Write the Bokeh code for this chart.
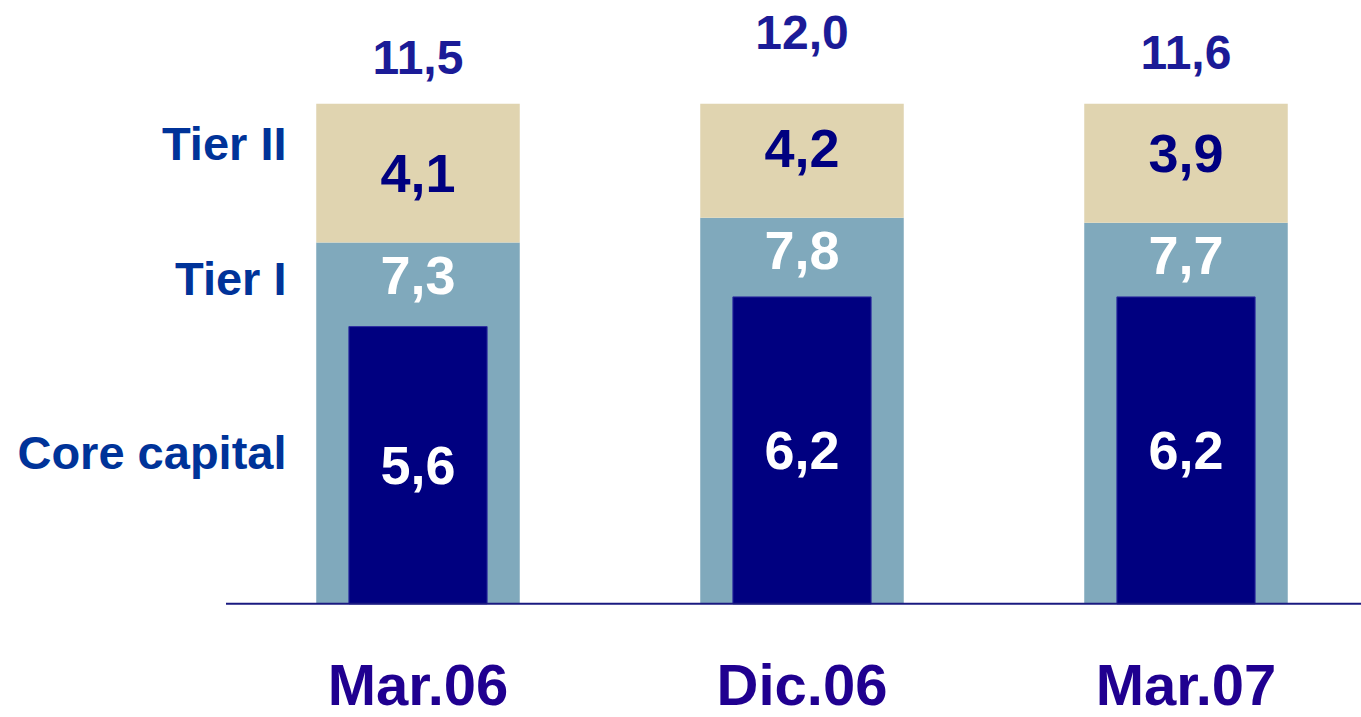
from bokeh.plotting import figure
from bokeh.models import ColumnDataSource, Range1d
from bokeh.core.properties import value
from bokeh.embed import file_html
from bokeh.resources import INLINE

# ---- data ----
categories = ["Mar.06", "Dic.06", "Mar.07"]
core_capital = [5.6, 6.2, 6.2]
tier1 = [7.3, 7.8, 7.7]
tier2 = [4.1, 4.2, 3.9]
total = [11.5, 12.0, 11.6]
series_names = ["Tier II", "Tier I", "Core capital"]

# ---- layout constants ----
W, H = 1361, 717
PX_PER_X = 384.0      # pixels between category centres
X0_PX = 417.5         # pixel of first category centre
PX_PER_Y = 49.5       # pixels per unit
BASE_PX = 603.3       # pixel row of the zero line (from top)
TIER2_CAP = 10.1      # beige bars are drawn truncated at this height
FONT = value("Liberation Sans")


def py(px_from_top):
    return (BASE_PX - px_from_top) / PX_PER_Y


def px_x(px):
    return (px - X0_PX) / PX_PER_X


def fmt(v):
    return f"{v:.1f}".replace(".", ",")


x = list(range(len(categories)))
src = ColumnDataSource(dict(
    x=x,
    cat=categories,
    core=core_capital,
    core_mid=[c / 2 for c in core_capital],
    t1=tier1,
    t2top=[min(t, TIER2_CAP) for t in total],
    total=total,
    lab_core=[fmt(v) for v in core_capital],
    lab_t1=[fmt(v) for v in tier1],
    lab_t2=[fmt(v) for v in tier2],
    lab_total=[fmt(v) for v in total],
    cat_y=[py(716)] * len(categories),
))

p = figure(width=W, height=H,
           x_range=Range1d(-X0_PX / PX_PER_X, (W - X0_PX) / PX_PER_X),
           y_range=Range1d(-(H - BASE_PX) / PX_PER_Y, BASE_PX / PX_PER_Y),
           output_backend="svg", toolbar_location=None,
           x_axis_type=None, y_axis_type=None, min_border=0)
p.grid.visible = False
p.outline_line_color = None
p.background_fill_color = "white"
p.border_fill_color = "white"

# bars
p.vbar(x="x", width=0.53, bottom=0, top="t1", source=src,
       fill_color="#80A9BC", line_color=None)
p.vbar(x="x", width=0.53, bottom="t1", top="t2top", source=src,
       fill_color="#E0D4B0", line_color=None)
p.vbar(x="x", width=0.36, bottom=0, top="core", source=src,
       fill_color="#000080", line_color="#2E2EA0", line_width=1)

# zero line
p.segment(x0=[x[0] - 0.5], y0=[0], x1=[x[-1] + 0.5], y1=[0],
          line_color="#1A1A80", line_width=2)

common = dict(source=src, text_align="center", text_baseline="middle",
              text_font=FONT, text_font_style="bold")

# totals
p.text(x="x", y="total", text="lab_total", y_offset=23,
       text_font_size="48px", text_color="#1B1B97", **common)
# tier II values
p.text(x="x", y="t1", text="lab_t2", y_offset=-69,
       text_font_size="54px", text_color="#000080", **common)
# tier I values
p.text(x="x", y="t1", text="lab_t1", y_offset=33,
       text_font_size="54px", text_color="white", **common)
# core values
p.text(x="x", y="core_mid", text="lab_core",
       text_font_size="54px", text_color="white", **common)
# category labels
p.text(x="x", y="cat_y", text="cat", source=src, text_align="center",
       text_baseline="bottom", text_font=FONT, text_font_style="bold",
       text_font_size="58px", text_color="#200090")

# series labels on the left
left_y_px = [143, 278, 452]
p.text(x=[px_x(286)] * 3, y=[py(v) for v in left_y_px], text=series_names,
       text_align="right", text_baseline="middle", text_font=FONT,
       text_font_style="bold", text_font_size="47px", text_color="#003399")

open("out.html", "w").write(file_html(p, INLINE))
